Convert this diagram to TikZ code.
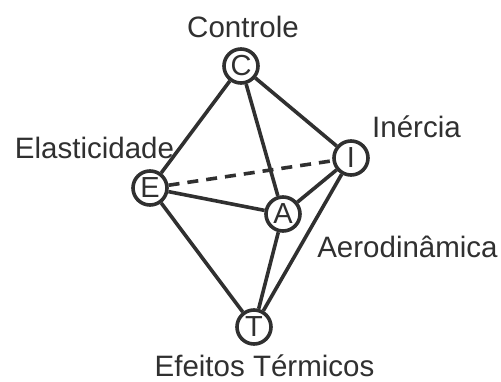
\documentclass[tikz,border=0pt]{standalone}
\usepackage{fontspec}
\setmainfont{Liberation Sans}
\usepackage{tikz}
\usetikzlibrary{positioning}
\definecolor{inkgray}{RGB}{48,48,48}

\begin{document}
\begin{tikzpicture}[
  x=1pt,y=-1pt,
  vertex/.style={
    circle, draw=inkgray, line width=3.6pt, inner sep=0pt,
    minimum size=34pt, text=inkgray,
    font=\fontsize{29}{32}\selectfont
  },
  edge/.style={draw=inkgray, line width=3.6pt},
  hidden/.style={edge, dash pattern=on 11pt off 8pt},
  tag/.style={anchor=base, inner sep=0pt, text=inkgray,
    font=\fontsize{29.5}{34}\selectfont}
]
\useasboundingbox (0,0) rectangle (501,381);

% ---- Vertices of the octahedron ----
\node[vertex] (C) at (241,66)  {C};
\node[vertex] (E) at (150,188) {E};
\node[vertex] (I) at (351,158) {I};
\node[vertex] (A) at (283,214) {A};
\node[vertex] (T) at (254,327) {T};

% ---- Labels ----
\node[tag] (lC) at (243,37)    {Controle};
\node[tag] (lE) at (94.5,158)  {Elasticidade};
\node[tag] (lI) at (416.5,137) {Inércia};
\node[tag] (lA) at (407.5,257) {Aerodinâmica};
\node[tag] (lT) at (264.5,376) {Efeitos Térmicos};

% ---- Edges ----
\foreach \a/\b in {C/E, C/A, C/I, E/A, A/I, E/T, A/T, I/T} {
  \draw[edge] (\a) -- (\b);
}
\draw[hidden] (E) -- (I);

\end{tikzpicture}
\end{document}
